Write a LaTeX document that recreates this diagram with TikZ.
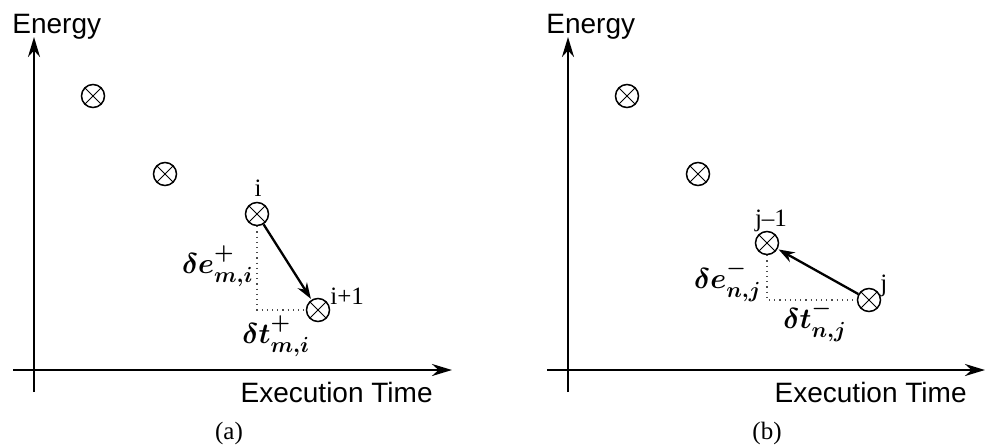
\documentclass[tikz,border=0pt]{standalone}
\usepackage{fontspec}
\usepackage{amsmath}
\setmainfont{Liberation Serif}
\setsansfont{Liberation Sans}
\usetikzlibrary{arrows.meta, positioning}

\begin{document}
\begin{tikzpicture}[
    x=0.5pt, y=-0.5pt,
    sample/.style={
        circle, draw, line width=0.75pt,
        minimum size=11.5pt, inner sep=0pt,
        path picture={
            \draw[line width=0.5pt]
                (path picture bounding box.north west) -- (path picture bounding box.south east)
                (path picture bounding box.north east) -- (path picture bounding box.south west);
        }
    },
    axis/.style={
        -{Stealth[length=10pt, width=6pt]},
        line width=1.3pt
    },
    arrow/.style={
        -{Stealth[length=8pt, width=5.5pt]},
        line width=1.15pt, shorten >=0.5pt
    },
    gap/.style={dotted, line width=0.6pt, color=black!70},
    axlbl/.style={font=\fontsize{14}{16}\selectfont\sffamily, inner sep=0pt},
    lbl/.style={font=\fontsize{12.5}{14}\selectfont, inner sep=0pt},
    delta/.style={font=\fontsize{15}{17}\selectfont, inner sep=0pt},
    panellbl/.style={font=\fontsize{12.5}{14}\selectfont, inner sep=0pt}
]
\useasboundingbox (0,0) rectangle (985,445);

%% ── Panel (a) ────────────────────────────────────────────────────────────────
\coordinate (ya_bot) at (34, 392);
\coordinate (ya_top) at (34, 37);
\coordinate (xa_lft) at (13, 370);
\coordinate (xa_rgt) at (452, 370);
\draw[axis] (ya_bot) -- (ya_top);
\draw[axis] (xa_lft) -- (xa_rgt);
\node[axlbl, anchor=base west] (ea) at (12, 33)  {Energy};
\node[axlbl, anchor=base east] (ta) at (433, 402) {Execution Time};

\node[sample] (a1) at (93, 96)  {};
\node[sample] (a2) at (165, 174) {};
\node[sample] (ai) at (257, 214) {};
\node[sample] (ai1) at (318, 310) {};

\node[lbl, anchor=base] (li) at (258, 196) {i};
\node[lbl, anchor=base west] (li1) at (330, 304) {i+1};

\draw[gap] (ai.south) |- (ai1.west);
\draw[arrow] (ai) -- (ai1);

\node[delta, anchor=base east] (dea) at (254, 273) {$\boldsymbol{\delta e^{+}_{m,i}}$};
\node[delta, anchor=base west] (dta) at (242, 343) {$\boldsymbol{\delta t^{+}_{m,i}}$};

\node[panellbl] (capa) at (229, 433) {(a)};

%% ── Panel (b) ────────────────────────────────────────────────────────────────
\coordinate (yb_bot) at (568, 392);
\coordinate (yb_top) at (568, 37);
\coordinate (xb_lft) at (547, 370);
\coordinate (xb_rgt) at (985, 370);
\draw[axis] (yb_bot) -- (yb_top);
\draw[axis] (xb_lft) -- (xb_rgt);
\node[axlbl, anchor=base west] (eb) at (546, 33)  {Energy};
\node[axlbl, anchor=base east] (tb) at (967, 402) {Execution Time};

\node[sample] (b1) at (627, 96)  {};
\node[sample] (b2) at (698, 174) {};
\node[sample] (bj1) at (767, 243) {};
\node[sample] (bj) at (869, 300) {};

\node[lbl, anchor=base] (lj1) at (771, 226) {j\textendash1};
\node[lbl, anchor=base west] (lj) at (880, 291) {j};

\draw[gap] (bj1.south) |- (bj.west);
\draw[arrow] (bj) -- (bj1);

\node[delta, anchor=base east] (deb) at (762, 288) {$\boldsymbol{\delta e^{-}_{n,j}}$};
\node[delta, anchor=base west] (dtb) at (783, 328) {$\boldsymbol{\delta t^{-}_{n,j}}$};

\node[panellbl] (capb) at (767, 433) {(b)};

\end{tikzpicture}
\end{document}
